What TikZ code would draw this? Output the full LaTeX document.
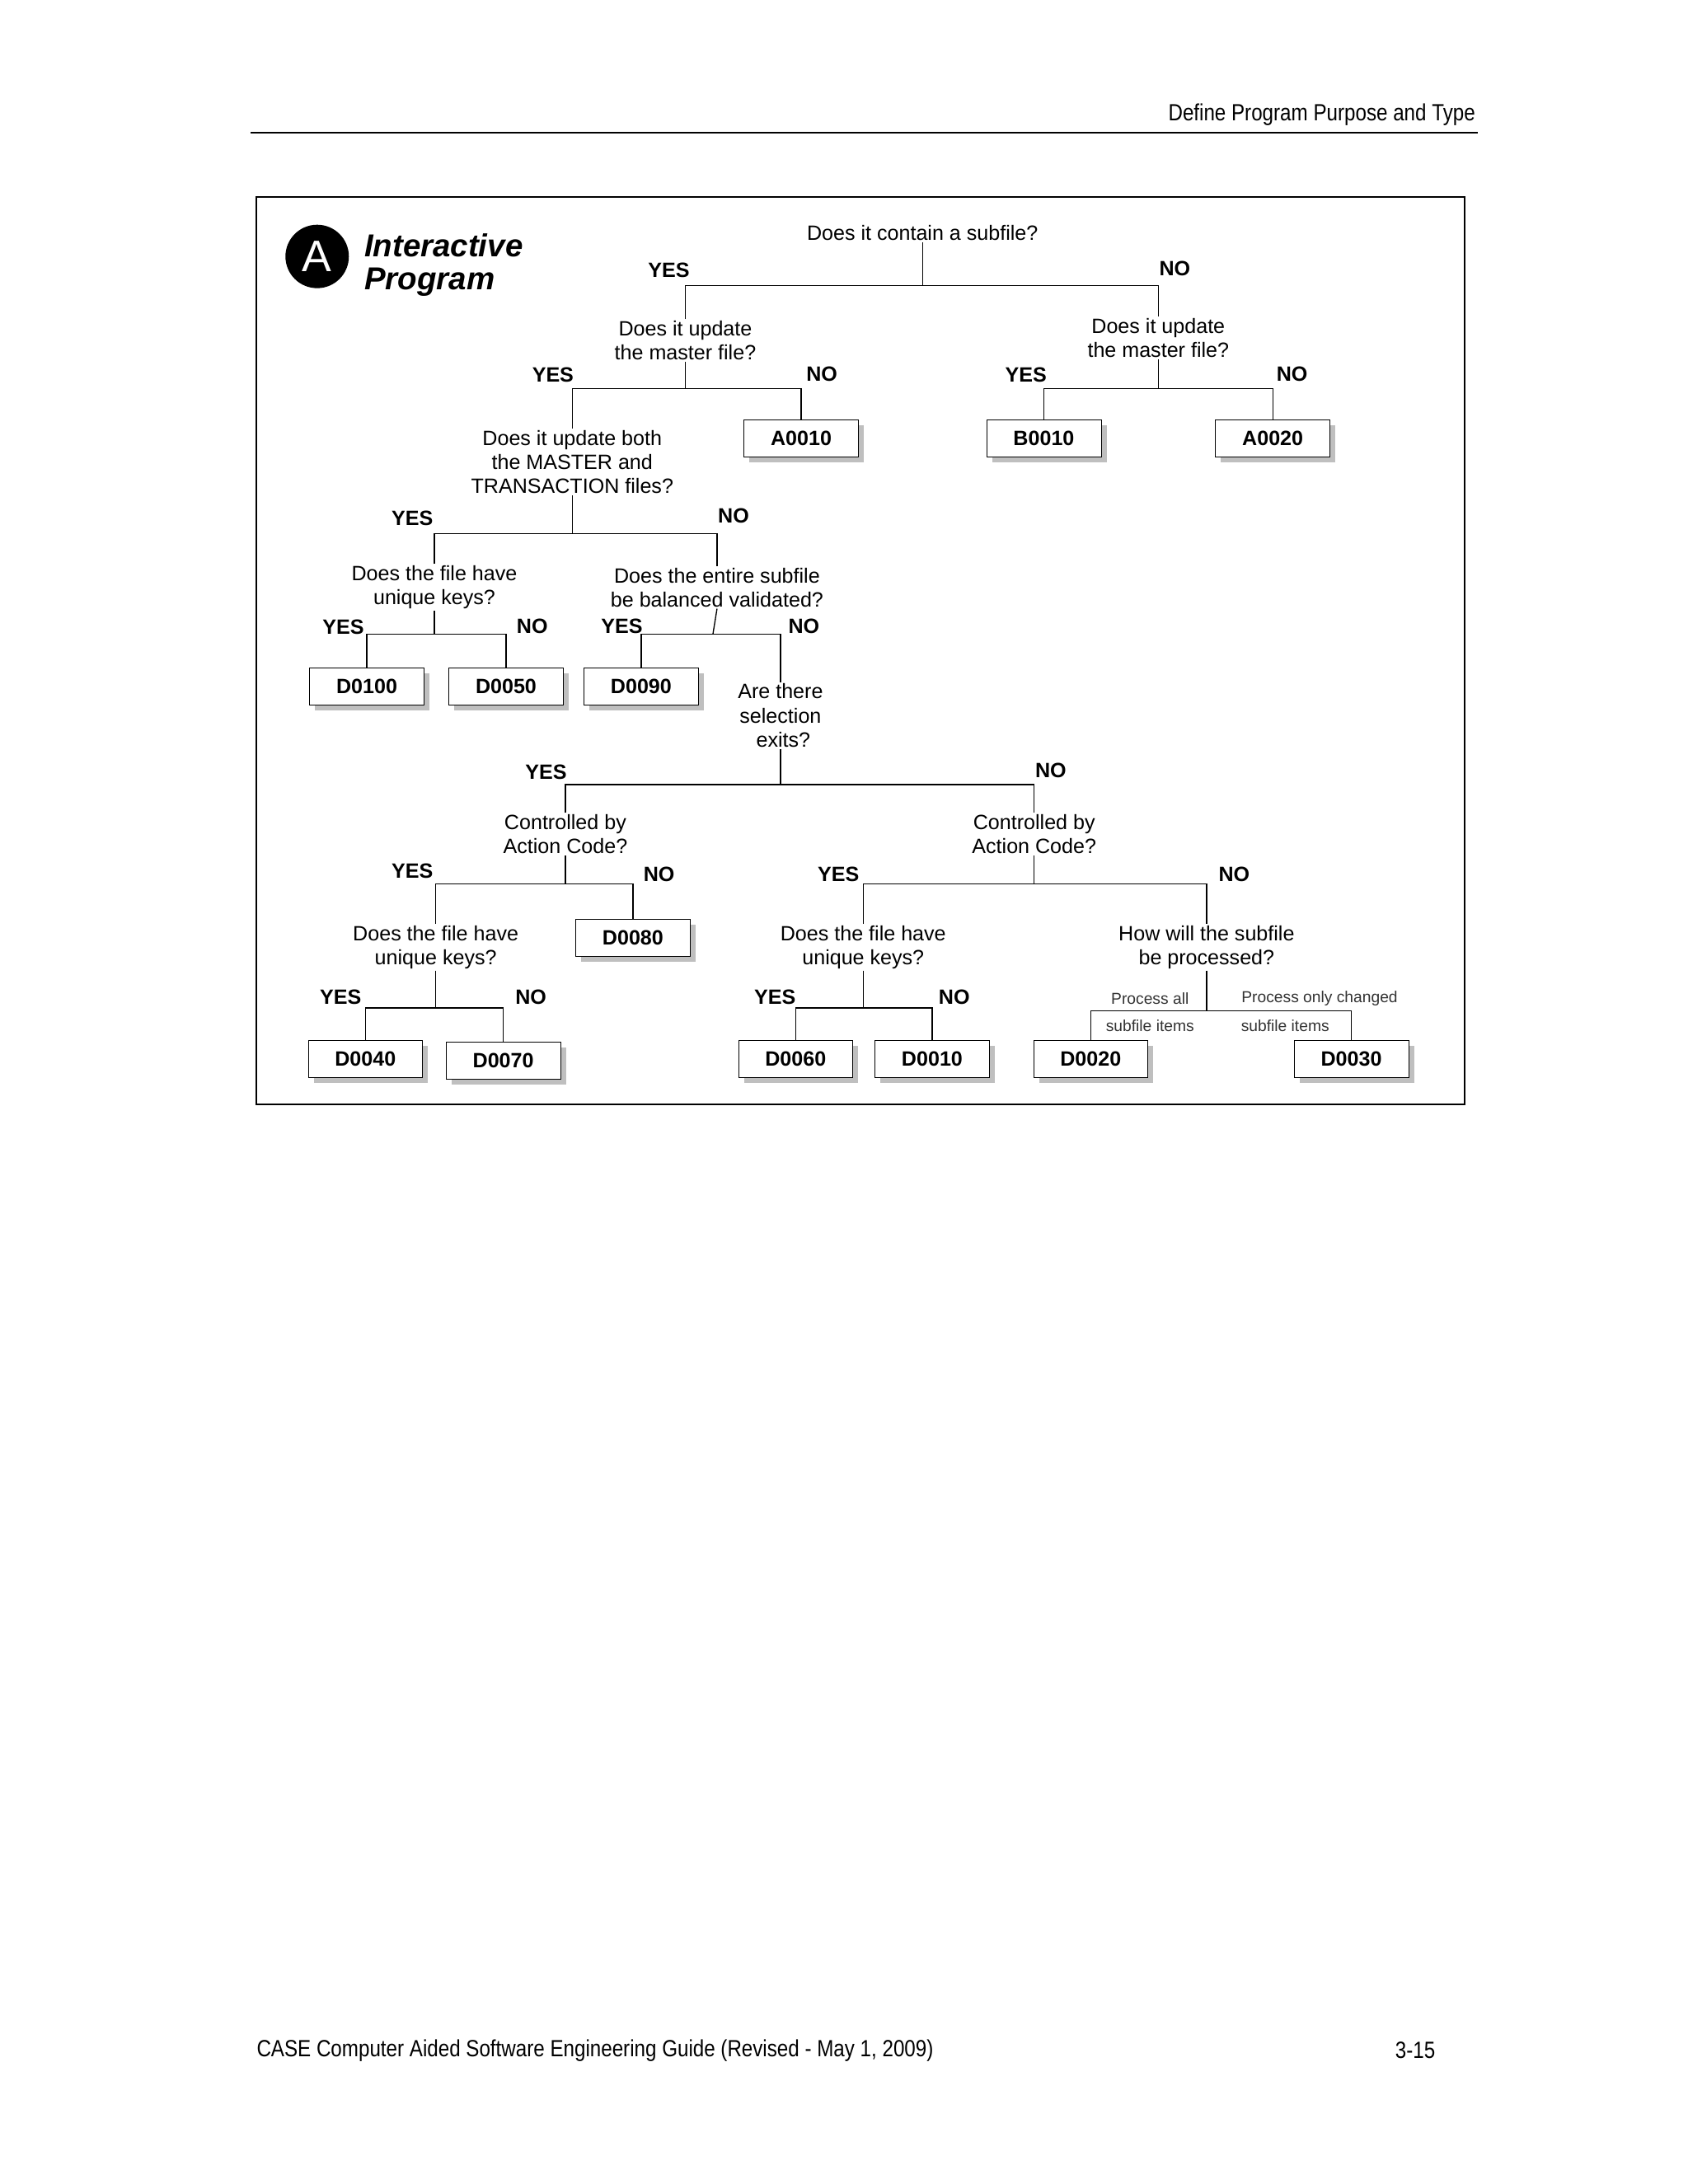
\documentclass[tikz,border=0pt]{standalone}
\usepackage{fontspec}
\setmainfont{Liberation Sans}
\newfontfamily\narrowf[FakeStretch=0.85]{Liberation Sans}
\usetikzlibrary{shadows}
\begin{document}
\begin{tikzpicture}[x=1pt,y=-1pt,
 q/.style={align=center,inner sep=1pt,font=\fontsize{15}{17.5}\selectfont},
 yn/.style={font=\fontsize{15}{17}\selectfont\bfseries,inner sep=0pt},
 sm/.style={font=\fontsize{11.5}{13}\selectfont,text=black!80,inner sep=0pt},
 bx/.style={draw,fill=white,minimum width=83pt,minimum height=27pt,inner sep=0pt,
   font=\fontsize{15}{17}\selectfont\bfseries,
   drop shadow={shadow xshift=4pt,shadow yshift=-4pt,fill=black!25,opacity=1}},
 ln/.style={line width=0.8pt}]
\useasboundingbox (0,0) rectangle (1224,1584);
\fill[white] (0,0) rectangle (1224,1584);
% header / footer
\node[anchor=east,inner sep=0pt,font=\narrowf\fontsize{17}{19}\selectfont] (hd) at (1070,83) {Define Program Purpose and Type};
\draw[line width=1.2pt] (182,96) -- (1072,96);
\node[anchor=west,inner sep=0pt,font=\narrowf\fontsize{17}{19}\selectfont] (ft) at (186,1487) {CASE Computer Aided Software Engineering Guide (Revised - May 1, 2009)};
\node[anchor=east,inner sep=0pt,font=\narrowf\fontsize{17}{19}\selectfont] (pg) at (1041,1487) {3-15};
% frame
\draw[line width=1.2pt] (186,143) rectangle (1062,801);
% title
\node[circle,fill=black,minimum size=46pt,inner sep=0pt,text=white,font=\fontsize{32}{32}\selectfont] (circ) at (230,186) {A};
\node[anchor=west,align=left,inner sep=0pt,font=\fontsize{23}{24}\selectfont\bfseries\itshape] (ttl) at (264,192) {Interactive\\Program};
% Q1
\node[q] (q1) at (669,169) {Does it contain a subfile?};
\coordinate (h1) at (669,207);
\node[yn] (y1) at (485,196) {YES};
\node[yn] (n1) at (852,195) {NO};
\node[q] (q2) at (497,247) {Does it update\\the master file?};
\node[q] (q2r) at (840,245) {Does it update\\the master file?};
\draw[ln] (q1.south) -- (h1);
\draw[ln] (q2.north) |- (h1) -| (q2r.north);
% Q2 left
\coordinate (h2) at (497,282);
\node[yn] (y2) at (401,272) {YES};
\node[yn] (n2) at (596,271) {NO};
\node[bx] (a0010) at (581,318) {A0010};
\node[q] (q3) at (415,335) {Does it update both\\the MASTER and\\TRANSACTION files?};
\draw[ln] (q2.south) -- (h2);
\draw[ln] (q3.north) |- (h2) -| (a0010.north);
% Q2 right
\coordinate (h2r) at (840,282);
\node[yn] (y2r) at (744,272) {YES};
\node[yn] (n2r) at (937,271) {NO};
\node[bx] (b0010) at (757,318) {B0010};
\node[bx] (a0020) at (923,318) {A0020};
\draw[ln] (q2r.south) -- (h2r);
\draw[ln] (b0010.north) |- (h2r) -| (a0020.north);
% Q3
\coordinate (h3) at (415,387);
\node[yn] (y3) at (299,376) {YES};
\node[yn] (n3) at (532,374) {NO};
\node[q] (q4l) at (315,426) {Does the file have\\unique keys?};
\node[q] (q4r) at (520,426) {Does the entire subfile\\be balanced validated?};
\draw[ln] (q3.south) -- (h3);
\draw[ln] (q4l.north) |- (h3) -| (q4r.north);
% Q4 left
\coordinate (h4l) at (315,460);
\node[yn] (y4l) at (249,455) {YES};
\node[yn] (n4l) at (386,454) {NO};
\node[bx] (d0100) at (266,498) {D0100};
\node[bx] (d0050) at (367,498) {D0050};
\draw[ln] (q4l.south) -- (h4l);
\draw[ln] (d0100.north) |- (h4l) -| (d0050.north);
% Q4 right
\coordinate (h4r) at (517,460);
\node[yn] (y4r) at (451,454) {YES};
\node[yn] (n4r) at (583,454) {NO};
\node[bx] (d0090) at (465,498) {D0090};
\node[q] (q5) at (566,519) {Are there\\selection\\\ exits?};
\draw[ln] (q4r.south) -- (h4r);
\draw[ln] (d0090.north) |- (h4r) -| (q5.north);
% Q5
\coordinate (h5) at (566,569);
\node[yn] (y5) at (396,560) {YES};
\node[yn] (n5) at (762,559) {NO};
\node[q] (q6l) at (410,605) {Controlled by\\Action Code?};
\node[q] (q6r) at (750,605) {Controlled by\\Action Code?};
\draw[ln] (q5.south) -- (h5);
\draw[ln] (q6l.north) |- (h5) -| (q6r.north);
% Q6 left
\coordinate (h6l) at (410,641);
\node[yn] (y6l) at (299,632) {YES};
\node[yn] (n6l) at (478,634) {NO};
\node[bx] (d0080) at (459,680) {D0080};
\node[q] (q7l) at (316,687) {Does the file have\\unique keys?};
\draw[ln] (q6l.south) -- (h6l);
\draw[ln] (q7l.north) |- (h6l) -| (d0080.north);
% Q7 left
\coordinate (h7l) at (316,731);
\node[yn] (y7l) at (247,723) {YES};
\node[yn] (n7l) at (385,723) {NO};
\node[bx] (d0040) at (265,768) {D0040};
\node[bx] (d0070) at (365,769) {D0070};
\draw[ln] (q7l.south) -- (h7l);
\draw[ln] (d0040.north) |- (h7l) -| (d0070.north);
% Q6 right
\coordinate (h6r) at (750,641);
\node[yn] (y6r) at (608,634) {YES};
\node[yn] (n6r) at (895,634) {NO};
\node[q] (q7r) at (626,687) {Does the file have\\unique keys?};
\node[q] (q8) at (875,687) {How will the subfile\\be processed?};
\draw[ln] (q6r.south) -- (h6r);
\draw[ln] (q7r.north) |- (h6r) -| (q8.north);
% Q7 right
\coordinate (h7r) at (626,731);
\node[yn] (y7r) at (562,723) {YES};
\node[yn] (n7r) at (692,723) {NO};
\node[bx] (d0060) at (577,768) {D0060};
\node[bx] (d0010) at (676,768) {D0010};
\draw[ln] (q7r.south) -- (h7r);
\draw[ln] (d0060.north) |- (h7r) -| (d0010.north);
% Q8
\coordinate (h8) at (875,733);
\node[sm] (p1) at (834,724) {Process all};
\node[sm] (p2) at (834,744) {subfile items};
\node[sm] (p3) at (957,724) {Process only changed};
\node[sm] (p4) at (932,744) {subfile items};
\node[bx] (d0020) at (791,768) {D0020};
\node[bx] (d0030) at (980,768) {D0030};
\draw[ln] (q8.south) -- (h8);
\draw[ln] ([xshift=-0pt]d0020.north) |- (h8) -| (d0030.north);
\end{tikzpicture}
\end{document}
